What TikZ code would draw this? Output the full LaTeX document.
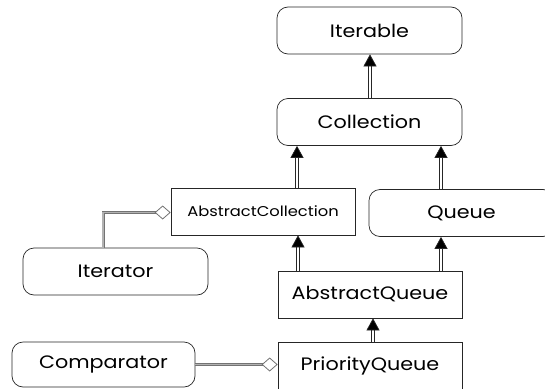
\documentclass[tikz,border=0pt]{standalone}
\usepackage{fontspec}
\setmainfont[FakeStretch=1.15]{Poppins}
\usetikzlibrary{arrows.meta}
\tikzset{
  rbox/.style={draw=black!85, line width=0.7pt, rounded corners=11pt, minimum width=185pt, minimum height=47pt, inner sep=0pt, font=\fontsize{18}{21}\selectfont, fill=white},
  sbox/.style={draw=black!85, line width=0.7pt, minimum width=184pt, minimum height=47pt, inner sep=0pt, font=\fontsize{18}{21}\selectfont, fill=white},
  inh/.style={draw=black!85, line width=0.7pt, double=white, double distance=2.2pt, -{Triangle[width=13pt,length=12pt,fill=black]}},
  agg/.style={draw=black!55, line width=0.9pt, double=black!30, double distance=1.2pt, -{Diamond[width=14pt,length=16pt,open,fill=white,line width=0.8pt]}},
}
\begin{document}
\begin{tikzpicture}[x=1pt,y=-1pt]
\useasboundingbox (0,0) rectangle (545,388);
\node[rbox] (it) at (369.5,30.5) {Iterable};
\node[rbox] (col) at (369.5,122) {Collection};
\node[sbox, font=\fontsize{14.2}{17}\selectfont] (ac) at (263,211.5) {AbstractCollection};
\node[rbox] (q) at (461.5,213) {Queue};
\node[rbox] (iter) at (115.5,271.5) {Iterator};
\node[sbox] (aq) at (370,294.5) {AbstractQueue};
\node[sbox] (pq) at (370,365.5) {PriorityQueue};
\node[rbox, minimum width=183pt, minimum height=45pt] (comp) at (103.5,364.5) {Comparator};
\coordinate (bend) at (103,212.5);
\draw[inh] (col.north -| 370,0) -- (it.south -| 370,0);
\draw[inh] (ac.north -| 297,0) -- (col.south -| 297,0);
\draw[inh] (q.north -| 441,0) -- (col.south -| 441,0);
\draw[inh] (aq.north -| 298,0) -- (ac.south -| 298,0);
\draw[inh] (aq.north -| 441,0) -- (q.south -| 441,0);
\draw[inh] (pq.north -| 373,0) -- (aq.south -| 373,0);
\draw[agg] (iter.north -| bend) -- (bend) -- (ac.west |- bend);
\draw[agg] (comp.east) -- (pq.west |- comp.east);
\end{tikzpicture}
\end{document}
